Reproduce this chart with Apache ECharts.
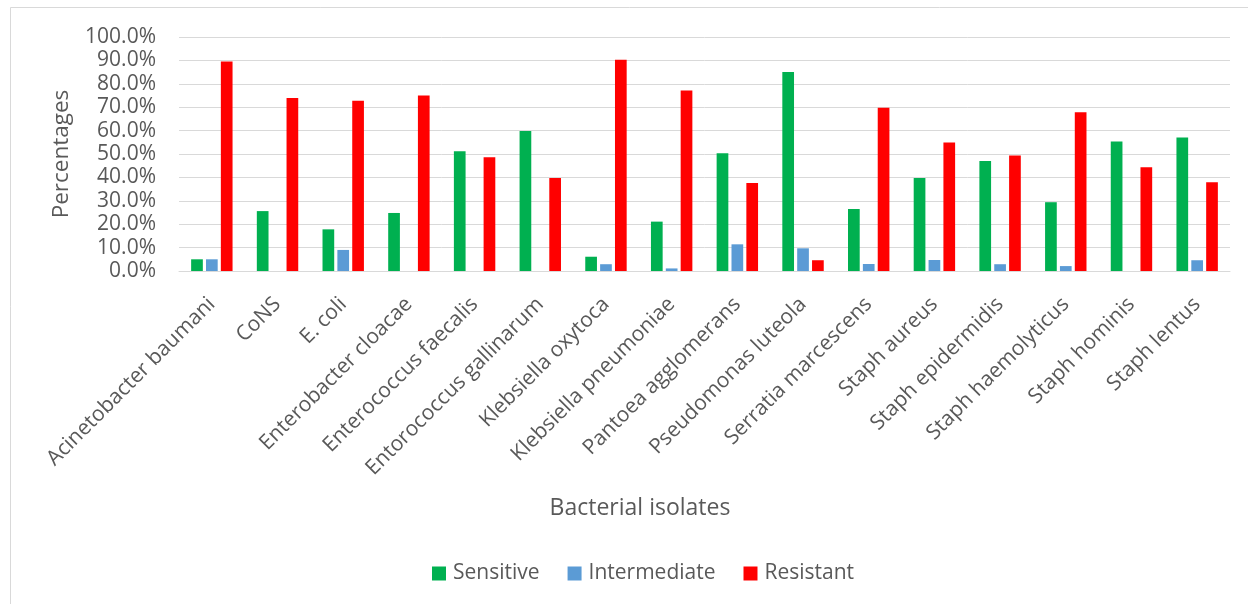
<!DOCTYPE html>
<html>
<head>
<meta charset="utf-8">
<style>
  html, body { margin: 0; padding: 0; background: #fff; }
  #chart { width: 1248px; height: 604px; }
</style>
<script src="https://cdn.jsdelivr.net/npm/echarts@6/dist/echarts.min.js"></script>
</head>
<body>
<div id="chart"></div>
<script>
// Bacterial isolates on the category axis
const isolates = [
  'Acinetobacter baumani', 'CoNS', 'E. coli', 'Enterobacter cloacae',
  'Enterococcus faecalis', 'Entorococcus gallinarum', 'Klebsiella oxytoca',
  'Klebsiella pneumoniae', 'Pantoea agglomerans', 'Pseudomonas luteola',
  'Serratia marcescens', 'Staph aureus', 'Staph epidermidis',
  'Staph haemolyticus', 'Staph hominis', 'Staph lentus'
];

// Susceptibility percentages per isolate
const sensitive    = [5.0, 25.6, 17.8, 24.8, 51.2, 59.8, 6.1, 21.1, 50.3, 85.0, 26.5, 39.7, 47.0, 29.4, 55.3, 57.0];
const intermediate = [5.0, 0, 9.0, 0, 0, 0, 2.9, 1.1, 11.4, 9.7, 3.0, 4.7, 2.9, 2.1, 0, 4.6];
const resistant    = [89.5, 73.9, 72.8, 75.0, 48.6, 39.7, 90.3, 77.1, 37.6, 4.6, 69.8, 54.9, 49.4, 67.8, 44.3, 37.9];

const seriesNames = ['Sensitive', 'Intermediate', 'Resistant'];
const seriesColors = ['#00B050', '#5B9BD5', '#FF0000'];

const FONT = '"Open Sans", "Noto Sans", sans-serif';
const TEXT = '#595959';

const chart = echarts.init(document.getElementById('chart'), null, { renderer: 'canvas' });

const makeBar = (name, data, color) => ({
  name,
  type: 'bar',
  data,
  barWidth: 11.7,
  barGap: '27%',
  itemStyle: { color },
  emphasis: { disabled: true }
});

chart.setOption({
  animation: false,
  backgroundColor: '#ffffff',
  textStyle: { fontFamily: FONT },
  // light frame around the chart area
  graphic: [{
    type: 'rect',
    shape: { x: 10.5, y: 7.5, width: 1300, height: 700 },
    style: { fill: 'none', stroke: '#d9d9d9', lineWidth: 1 },
    silent: true,
    z: -1
  }],
  grid: { left: 179, right: 18, top: 37, bottom: 333, containLabel: false },
  legend: {
    data: seriesNames,
    bottom: 15,
    left: 427,
    icon: 'rect',
    itemWidth: 14,
    itemHeight: 14,
    itemGap: 28,
    textStyle: { fontFamily: FONT, fontSize: 21, color: TEXT, padding: [0, 0, 0, 2] }
  },
  xAxis: {
    type: 'category',
    data: isolates,
    name: 'Bacterial isolates',
    nameLocation: 'middle',
    nameGap: 226,
    // right padding shifts the title toward the frame's centre
    nameTextStyle: { fontFamily: FONT, fontSize: 23, color: TEXT, padding: [0, 129, 0, 0] },
    axisLine: { lineStyle: { color: '#d9d9d9', width: 1 } },
    axisTick: { show: false },
    axisLabel: {
      interval: 0,
      rotate: 45,
      margin: 30,
      fontFamily: FONT,
      fontSize: 21,
      color: TEXT
    }
  },
  yAxis: {
    type: 'value',
    min: 0,
    max: 100,
    interval: 10,
    name: 'Percentages',
    nameLocation: 'middle',
    nameGap: 106,
    nameRotate: 90,
    nameTextStyle: { fontFamily: FONT, fontSize: 22.5, color: TEXT },
    axisLine: { show: false },
    axisTick: { show: false },
    axisLabel: {
      margin: 23,
      fontFamily: FONT,
      fontSize: 21,
      color: TEXT,
      formatter: v => v.toFixed(1) + '%'
    },
    splitLine: { lineStyle: { color: '#d9d9d9', width: 1 } }
  },
  series: [
    makeBar(seriesNames[0], sensitive, seriesColors[0]),
    makeBar(seriesNames[1], intermediate, seriesColors[1]),
    makeBar(seriesNames[2], resistant, seriesColors[2])
  ]
});
</script>
</body>
</html>
